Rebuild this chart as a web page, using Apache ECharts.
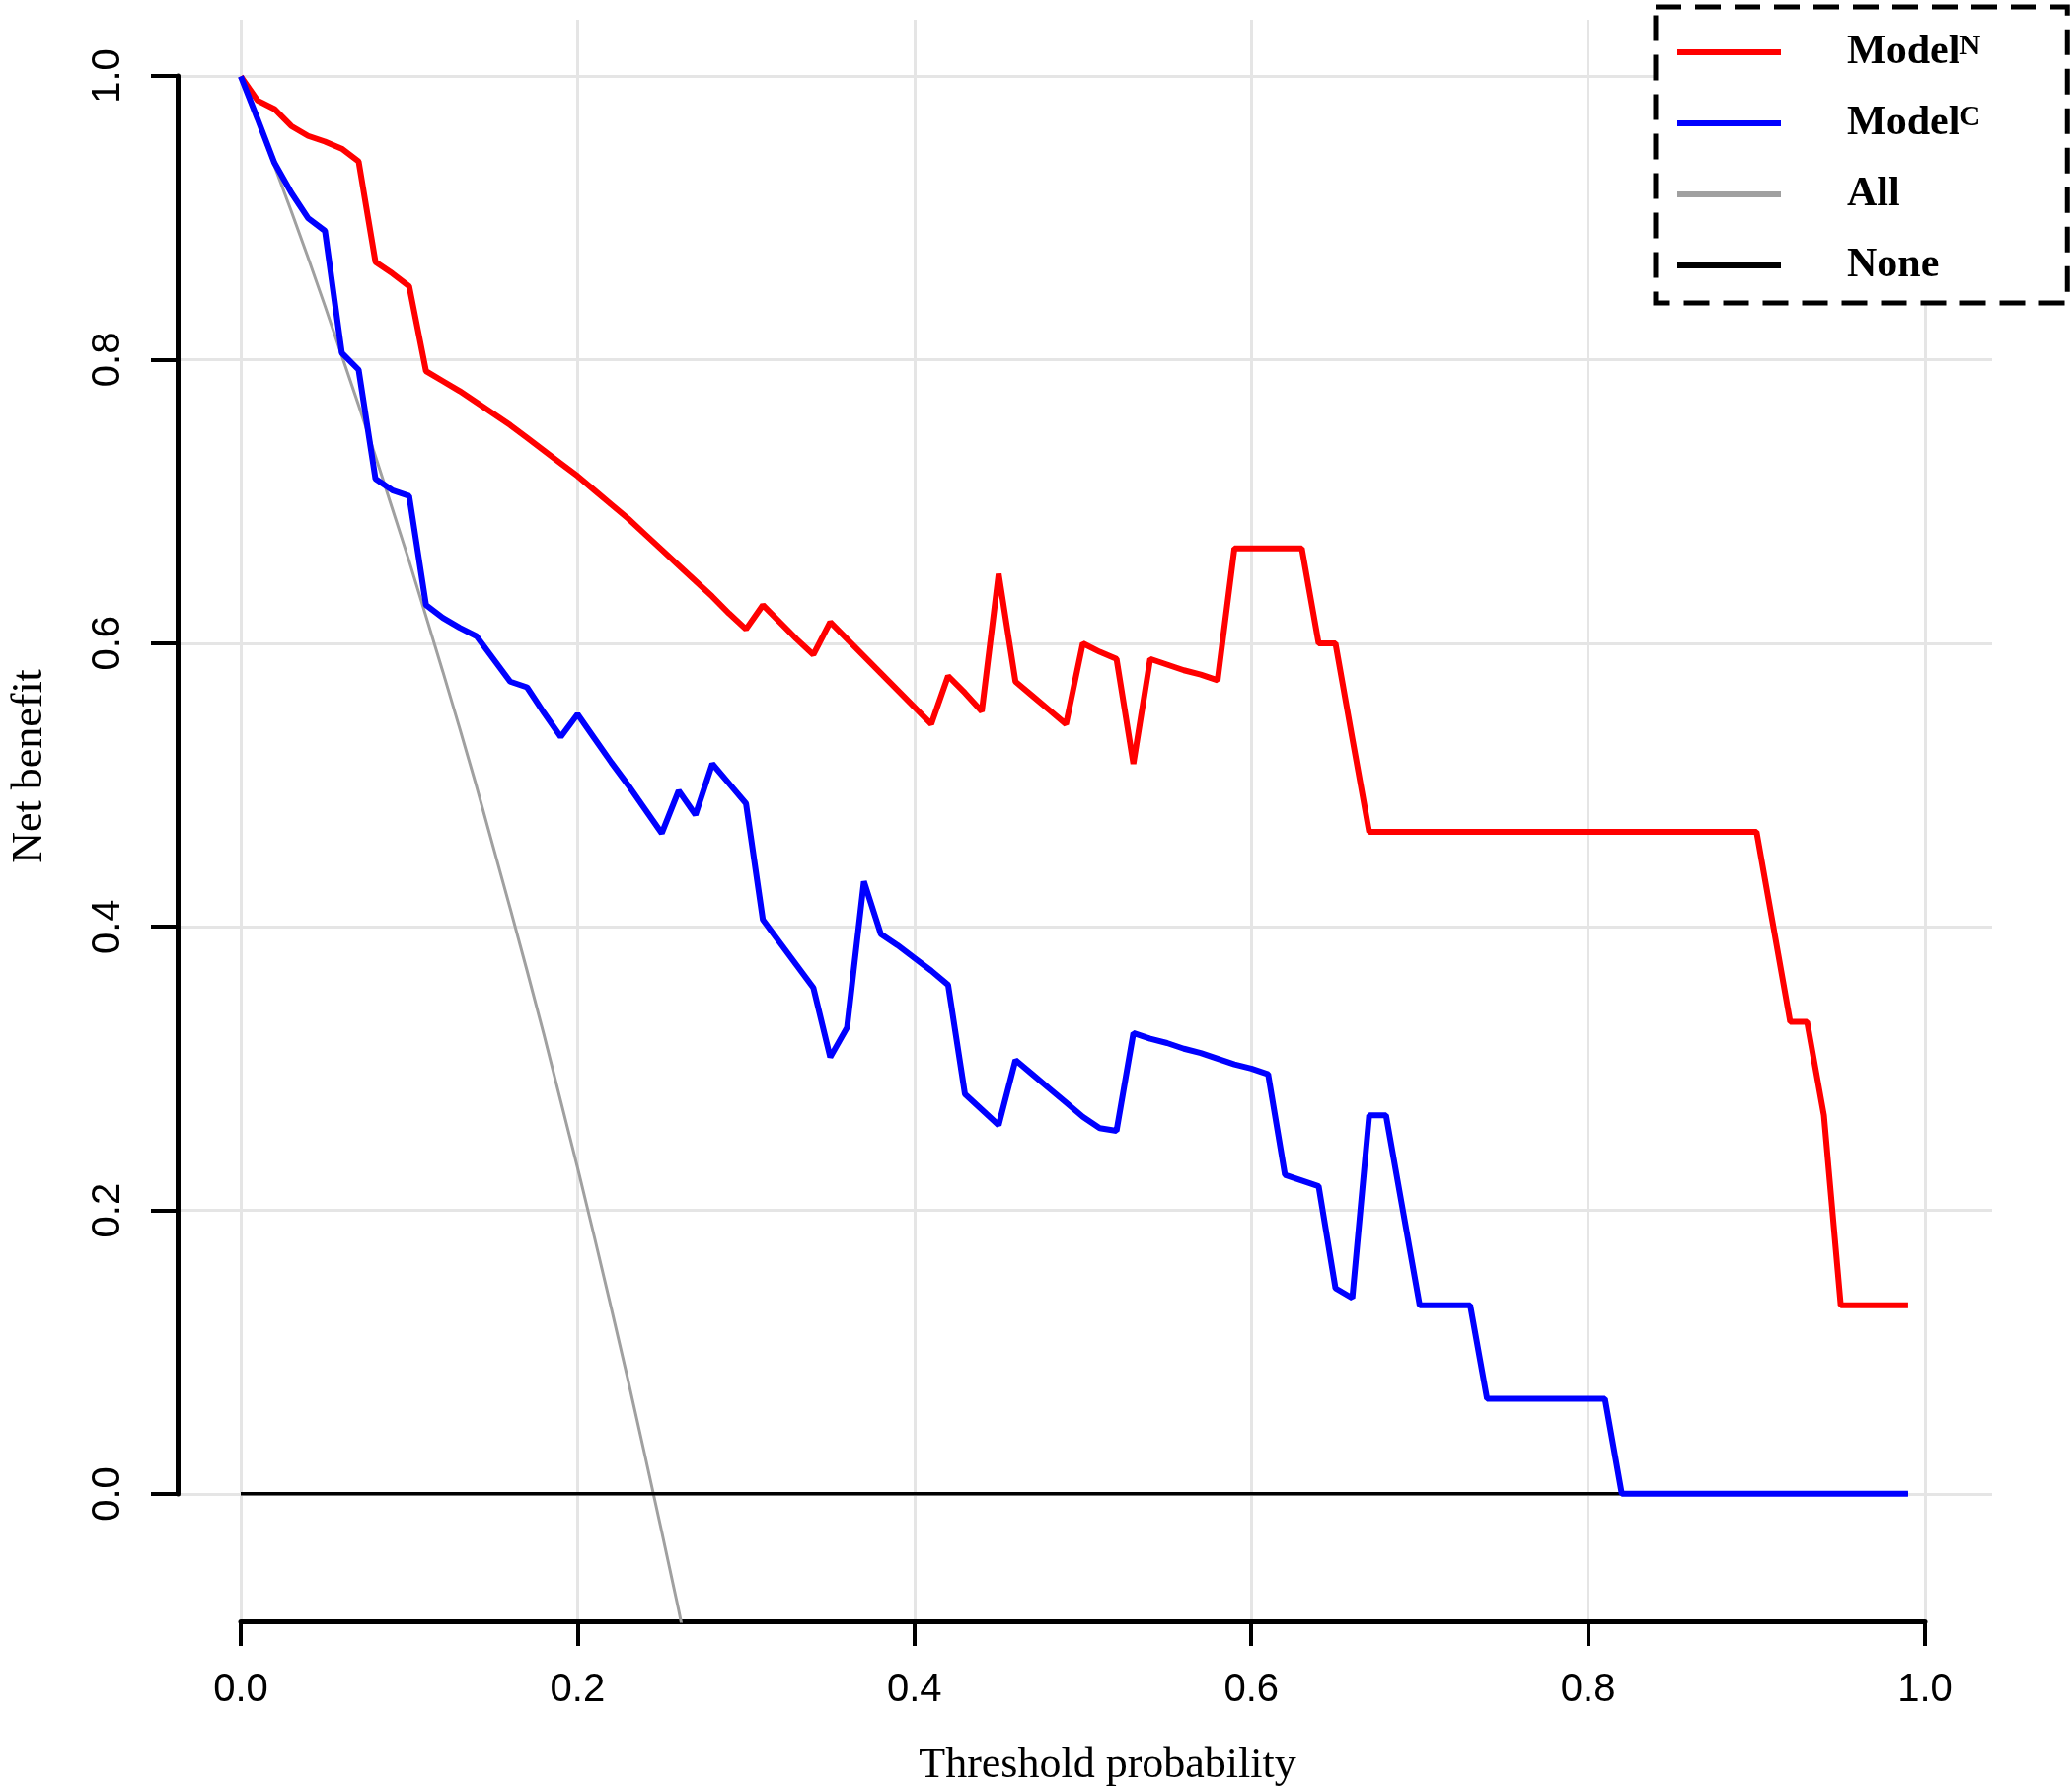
<!DOCTYPE html>
<html>
<head>
<meta charset="utf-8">
<script src="https://cdn.jsdelivr.net/npm/echarts@6/dist/echarts.min.js"></script>
<style>
body { margin: 0; background: #fff; }
#main { width: 2098px; height: 1816px; }
</style>
</head>
<body>
<div id="main"></div>
<script>
// decision curve data (threshold step 0.01)
var thresholds = [
  0.00, 0.01, 0.02, 0.03, 0.04, 0.05, 0.06, 0.07, 0.08, 0.09,
  0.10, 0.11, 0.12, 0.13, 0.14, 0.15, 0.16, 0.17, 0.18, 0.19,
  0.20, 0.21, 0.22, 0.23, 0.24, 0.25, 0.26, 0.27, 0.28, 0.29,
  0.30, 0.31, 0.32, 0.33, 0.34, 0.35, 0.36, 0.37, 0.38, 0.39,
  0.40, 0.41, 0.42, 0.43, 0.44, 0.45, 0.46, 0.47, 0.48, 0.49,
  0.50, 0.51, 0.52, 0.53, 0.54, 0.55, 0.56, 0.57, 0.58, 0.59,
  0.60, 0.61, 0.62, 0.63, 0.64, 0.65, 0.66, 0.67, 0.68, 0.69,
  0.70, 0.71, 0.72, 0.73, 0.74, 0.75, 0.76, 0.77, 0.78, 0.79,
  0.80, 0.81, 0.82, 0.83, 0.84, 0.85, 0.86, 0.87, 0.88, 0.89,
  0.90, 0.91, 0.92, 0.93, 0.94, 0.95, 0.96, 0.97, 0.98, 0.99
];

var modelN = [
  1.000, 0.983, 0.977, 0.965, 0.958, 0.954, 0.949, 0.940, 0.869, 0.861,
  0.852, 0.792, 0.785, 0.778, 0.770, 0.762, 0.754, 0.745, 0.736, 0.727,
  0.718, 0.708, 0.698, 0.688, 0.677, 0.666, 0.655, 0.644, 0.633, 0.621,
  0.610, 0.627, 0.615, 0.603, 0.592, 0.615, 0.603, 0.591, 0.579, 0.567,
  0.555, 0.543, 0.577, 0.565, 0.552, 0.649, 0.573, 0.563, 0.553, 0.543,
  0.600, 0.594, 0.589, 0.515, 0.589, 0.585, 0.581, 0.578, 0.574, 0.667,
  0.667, 0.667, 0.667, 0.667, 0.600, 0.600, 0.533, 0.467, 0.467, 0.467,
  0.467, 0.467, 0.467, 0.467, 0.467, 0.467, 0.467, 0.467, 0.467, 0.467,
  0.467, 0.467, 0.467, 0.467, 0.467, 0.467, 0.467, 0.467, 0.467, 0.467,
  0.467, 0.400, 0.333, 0.333, 0.267, 0.133, 0.133, 0.133, 0.133, 0.133
];

var modelC = [
  1.000, 0.970, 0.939, 0.918, 0.900, 0.891, 0.805, 0.793, 0.716, 0.708,
  0.704, 0.627, 0.618, 0.611, 0.605, 0.589, 0.573, 0.569, 0.551, 0.534,
  0.550, 0.533, 0.516, 0.500, 0.483, 0.466, 0.496, 0.479, 0.515, 0.501,
  0.487, 0.405, 0.389, 0.373, 0.357, 0.308, 0.329, 0.432, 0.395, 0.387,
  0.378, 0.369, 0.359, 0.282, 0.271, 0.260, 0.306, 0.296, 0.286, 0.276,
  0.266, 0.258, 0.256, 0.325, 0.321, 0.318, 0.314, 0.311, 0.307, 0.303,
  0.300, 0.296, 0.225, 0.221, 0.217, 0.145, 0.138, 0.267, 0.267, 0.200,
  0.133, 0.133, 0.133, 0.133, 0.067, 0.067, 0.067, 0.067, 0.067, 0.067,
  0.067, 0.067, 0.000, 0.000, 0.000, 0.000, 0.000, 0.000, 0.000, 0.000,
  0.000, 0.000, 0.000, 0.000, 0.000, 0.000, 0.000, 0.000, 0.000, 0.000
];

// treat-all curve, only until it leaves the plot at the bottom
var allNB = [
  1.000, 0.969, 0.937, 0.905, 0.872, 0.838, 0.803, 0.768, 0.732, 0.695,
  0.658, 0.619, 0.580, 0.540, 0.499, 0.456, 0.413, 0.369, 0.324, 0.277,
  0.230, 0.181, 0.131, 0.080, 0.027, -0.027, -0.082, -0.140
];

var noneX = [0, 0.99];
var noneNB = [0, 0];

var legendNames = { ModelN: '{m|Model}{s|N}', ModelC: '{m|Model}{s|C}', All: '{m|All}', None: '{m|None}' };

function pairs(xs, ys) {
  return ys.map(function (v, i) { return [xs[i], v]; });
}

var chart = echarts.init(document.getElementById('main'));

var gridColor = '#e5e5e5';
var sansFont = 'Liberation Sans';
var serifFont = 'Liberation Serif';

option = {
  animation: false,
  backgroundColor: '#fff',
  grid: [
    // data + x axis: x 0..1 spans the tick range, y covers the whole plot box
    { left: 244, right: 147, top: 20, bottom: 173 },
    // y axis: 0..1 only, R style
    { left: 175, right: 79, top: 77, bottom: 302 }
  ],
  xAxis: [
    {
      gridIndex: 0, type: 'value', min: 0, max: 1, interval: 0.2,
      axisLine: { onZero: false, lineStyle: { color: '#000', width: 5 } },
      axisTick: { length: 25, lineStyle: { color: '#000', width: 4 } },
      axisLabel: {
        margin: 50, fontSize: 40, color: '#000', fontFamily: sansFont,
        formatter: function (v) { return v.toFixed(1); }
      },
      splitLine: { show: true, lineStyle: { color: gridColor, width: 3 } },
      name: 'Threshold probability', nameLocation: 'middle', nameGap: 124,
      nameTextStyle: { fontFamily: serifFont, fontSize: 44, color: '#000', padding: [0, 0, 0, 50] }
    },
    { gridIndex: 1, type: 'value', min: 0, max: 1, show: false }
  ],
  yAxis: [
    { gridIndex: 0, type: 'value', min: -0.09, max: 1.04, show: false },
    {
      gridIndex: 1, type: 'value', min: 0, max: 1, interval: 0.2,
      axisLine: { show: true, onZero: false, lineStyle: { color: '#000', width: 5 } },
      axisTick: { show: true, length: 27, lineStyle: { color: '#000', width: 4 } },
      axisLabel: {
        rotate: 90, margin: 50, fontSize: 40, color: '#000', fontFamily: sansFont,
        formatter: function (v) { return v.toFixed(1); }
      },
      splitLine: { show: true, lineStyle: { color: gridColor, width: 3 } },
      name: 'Net benefit', nameLocation: 'middle', nameRotate: 90, nameGap: 128,
      nameTextStyle: { fontFamily: serifFont, fontSize: 44, color: '#000', padding: [0, 0, 0, 38] }
    }
  ],
  legend: {
    orient: 'vertical',
    left: 1678, top: 7,
    padding: [25, 88, 17, 19],
    itemWidth: 105, itemHeight: 40, itemGap: 30,
    selectedMode: false,
    borderColor: '#000', borderWidth: 5, borderType: [26, 14],
    backgroundColor: '#fff',
    lineStyle: { width: 6 },
    itemStyle: { opacity: 0 },
    data: ['ModelN', 'ModelC', 'All', 'None'],
    formatter: function (name) { return legendNames[name]; },
    textStyle: {
      color: '#000',
      rich: {
        m: { fontFamily: serifFont, fontWeight: 'bold', fontSize: 42, lineHeight: 40, color: '#000', padding: [0, 0, 0, 62] },
        s: { fontFamily: serifFont, fontWeight: 'bold', fontSize: 29, lineHeight: 40, color: '#000', verticalAlign: 'top' }
      }
    }
  },
  series: [
    {
      name: 'All', type: 'line', symbol: 'none', xAxisIndex: 0, yAxisIndex: 0,
      data: pairs(thresholds, allNB),
      lineStyle: { color: '#a0a0a0', width: 3 }, itemStyle: { color: '#a0a0a0' }
    },
    {
      name: 'None', type: 'line', symbol: 'none', xAxisIndex: 0, yAxisIndex: 0,
      data: pairs(noneX, noneNB),
      lineStyle: { color: '#000', width: 3.5 }, itemStyle: { color: '#000' }
    },
    {
      name: 'ModelN', type: 'line', symbol: 'none', xAxisIndex: 0, yAxisIndex: 0,
      data: pairs(thresholds, modelN),
      lineStyle: { color: '#ff0000', width: 6 }, itemStyle: { color: '#ff0000' }
    },
    {
      name: 'ModelC', type: 'line', symbol: 'none', xAxisIndex: 0, yAxisIndex: 0,
      data: pairs(thresholds, modelC),
      lineStyle: { color: '#0000ff', width: 6 }, itemStyle: { color: '#0000ff' }
    }
  ]
};

chart.setOption(option);
</script>
</body>
</html>
